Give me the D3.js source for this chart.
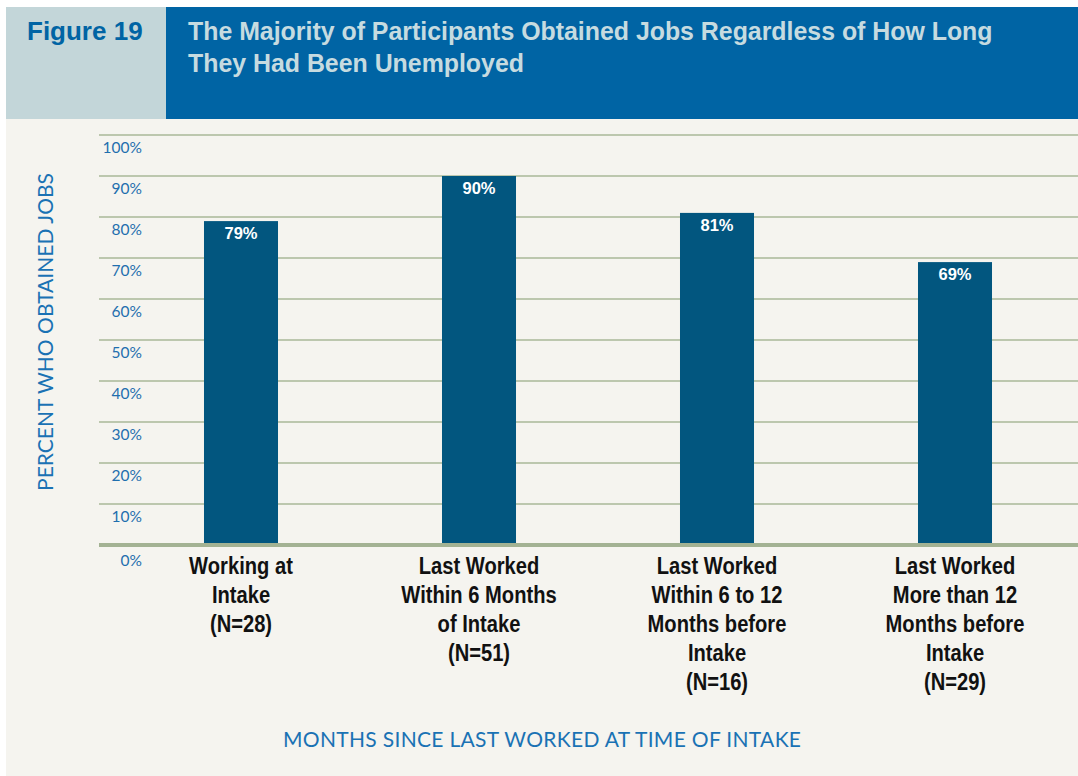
<!DOCTYPE html>
<html>
<head>
<meta charset="utf-8">
<script src="https://cdn.jsdelivr.net/npm/d3@7"></script>
<style>
  html, body { margin: 0; padding: 0; background: #ffffff; }
  svg { display: block; }
</style>
</head>
<body>
<svg id="chart" width="1078" height="776"></svg>
<script>
// Share of participants who obtained jobs, by time since last worked at intake
const categories = [
  ["Working at", "Intake", "(N=28)"],
  ["Last Worked", "Within 6 Months", "of Intake", "(N=51)"],
  ["Last Worked", "Within 6 to 12", "Months before", "Intake", "(N=16)"],
  ["Last Worked", "More than 12", "Months before", "Intake", "(N=29)"]
];
const values = [79, 90, 81, 69];
const yTicks = [0, 10, 20, 30, 40, 50, 60, 70, 80, 90, 100];
const figureLabel = "Figure 19";
const titleLines = [
  "The Majority of Participants Obtained Jobs Regardless of How Long",
  "They Had Been Unemployed"
];
const yTitle = "PERCENT WHO OBTAINED JOBS";
const xTitle = "MONTHS SINCE LAST WORKED AT TIME OF INTAKE";

const svg = d3.select("#chart");
const W = 1078, H = 776;

const lightFont = "Lato, 'Open Sans', sans-serif";
const boldFont = "'Liberation Sans', Arial, sans-serif";

// Panel background and header bands
svg.append("rect").attr("x", 6).attr("y", 7).attr("width", W - 6).attr("height", H - 7).attr("fill", "#f5f4ef");
svg.append("rect").attr("x", 6).attr("y", 7).attr("width", 160).attr("height", 112).attr("fill", "#c3d6d9");
svg.append("rect").attr("x", 166).attr("y", 7).attr("width", W - 166).attr("height", 112).attr("fill", "#0064a4");

svg.append("text")
  .attr("x", 27).attr("y", 40)
  .attr("font-family", boldFont).attr("font-weight", "bold").attr("font-size", 26)
  .attr("fill", "#0064a4")
  .text(figureLabel);

const titleG = svg.append("g");
titleG.selectAll("text").data(titleLines).join("text")
  .attr("x", 0).attr("y", (d, i) => 40 + i * 32)
  .attr("font-family", boldFont).attr("font-weight", "bold").attr("font-size", 26)
  .attr("fill", "#c6dbe0")
  .text(d => d);
// condense the headline horizontally to sit within the header band
const firstW = titleG.select("text").node().getComputedTextLength();
titleG.attr("transform", `translate(188,0) scale(${805 / firstW},1)`);

// Scales
const y = d3.scaleLinear().domain([0, 100]).range([545, 135]);
const x = d3.scaleBand().domain(d3.range(categories.length))
  .range([122, 1074]).paddingInner(0.689).paddingOuter(0.3445);

// Gridlines
svg.append("g").selectAll("line").data(yTicks.filter(t => t > 0)).join("line")
  .attr("x1", 99).attr("x2", W)
  .attr("y1", d => y(d)).attr("y2", d => y(d))
  .attr("stroke", "#bcc7ae").attr("stroke-width", 2);

// Tick labels
svg.append("g").selectAll("text").data(yTicks).join("text")
  .attr("x", 142).attr("y", d => y(d) + (d === 0 ? 21 : 18))
  .attr("text-anchor", "end")
  .attr("font-family", lightFont).attr("font-weight", 400).attr("font-size", 15.5)
  .attr("fill", "#1f6fae")
  .text(d => d + "%");

// Bars
svg.append("g").selectAll("rect").data(values).join("rect")
  .attr("x", (d, i) => x(i)).attr("width", x.bandwidth())
  .attr("y", d => y(d)).attr("height", d => y(0) - y(d))
  .attr("fill", "#02567f");

// Baseline
svg.append("line")
  .attr("x1", 99).attr("x2", W).attr("y1", y(0)).attr("y2", y(0))
  .attr("stroke", "#a3b293").attr("stroke-width", 4);

// Value labels
svg.append("g").selectAll("text").data(values).join("text")
  .attr("x", (d, i) => x(i) + x.bandwidth() / 2).attr("y", d => y(d) + 18)
  .attr("text-anchor", "middle")
  .attr("font-family", boldFont).attr("font-weight", "bold").attr("font-size", 16.5)
  .attr("fill", "#ffffff")
  .text(d => d + "%");

// Category labels, set in a condensed bold face
const catG = svg.append("g").selectAll("g").data(categories).join("g")
  .attr("transform", (d, i) => `translate(${x(i) + x.bandwidth() / 2},0) scale(0.84,1)`);
catG.append("text")
  .attr("text-anchor", "middle")
  .attr("font-family", boldFont).attr("font-weight", "bold").attr("font-size", 24)
  .attr("fill", "#111111")
  .selectAll("tspan").data(d => d).join("tspan")
  .attr("x", 0)
  .attr("y", (d, j) => 574 + j * 29)
  .text(d => d);

// Axis titles
svg.append("text")
  .attr("transform", "translate(53,332) rotate(-90)")
  .attr("text-anchor", "middle")
  .attr("font-family", lightFont).attr("font-weight", 400).attr("font-size", 21)
  .attr("fill", "#1a72b4")
  .attr("textLength", 318).attr("lengthAdjust", "spacing")
  .text(yTitle);

svg.append("text")
  .attr("x", 542).attr("y", 747)
  .attr("text-anchor", "middle")
  .attr("font-family", lightFont).attr("font-weight", 400).attr("font-size", 21)
  .attr("fill", "#1a72b4")
  .attr("textLength", 518).attr("lengthAdjust", "spacing")
  .text(xTitle);
</script>
</body>
</html>
